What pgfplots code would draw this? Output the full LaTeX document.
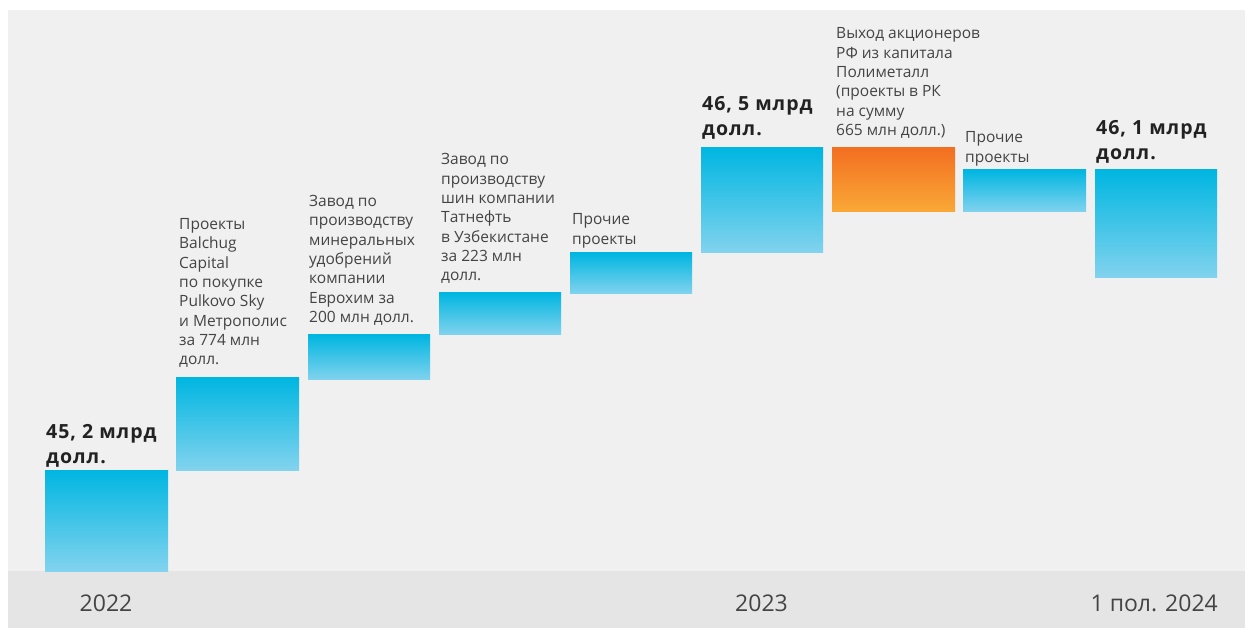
\documentclass[border=0pt]{standalone}
\usepackage{pgfplots}
\pgfplotsset{compat=1.18}
\usepackage{fontspec}
\setmainfont{Open Sans}
\newfontfamily\boldwide[LetterSpace=5]{Open Sans}
\definecolor{bgA}{HTML}{F0F0F0}
\definecolor{bgB}{HTML}{E5E5E5}
\definecolor{cyT}{HTML}{00B6E1}
\definecolor{cyB}{HTML}{82D3EE}
\definecolor{orT}{HTML}{F36F21}
\definecolor{orB}{HTML}{F9A937}
\definecolor{txt}{HTML}{444444}
\definecolor{txtb}{HTML}{222222}
\tikzset{
  lbl/.style={anchor=south west, align=left, inner sep=0pt, text depth=0pt,
    text=txt, font=\fontsize{15.5bp}{19.3bp}\selectfont},
  blbl/.style={anchor=south west, align=left, inner sep=0pt, text depth=0pt,
    text=txtb, font=\boldwide\fontsize{19.5bp}{25bp}\selectfont\bfseries},
  ylbl/.style={anchor=base, inner sep=0pt, text=txt, font=\fontsize{23bp}{27bp}\selectfont},
}
\begin{document}
\begin{tikzpicture}
\begin{axis}[
  width=1245bp, height=628bp, scale only axis,
  xmin=0, xmax=1245, ymin=0, ymax=628,
  hide axis, clip=false,
]
\path (axis cs:0,0) (axis cs:1245,628);
\fill[bgA] (axis cs:8,57) rectangle (axis cs:1245,618);
\fill[bgB] (axis cs:8,0) rectangle (axis cs:1245,57);

% bars: corners (left,bottom) (right,bottom) (right,top) (left,top)
\addplot[draw=none, top color=cyT, bottom color=cyB] coordinates {(45,57) (168,57) (168,158) (45,158)} -- cycle;
\addplot[draw=none, top color=cyT, bottom color=cyB] coordinates {(176,158) (299,158) (299,250) (176,250)} -- cycle;
\addplot[draw=none, top color=cyT, bottom color=cyB] coordinates {(308,248) (430,248) (430,293) (308,293)} -- cycle;
\addplot[draw=none, top color=cyT, bottom color=cyB] coordinates {(439,293) (561,293) (561,335) (439,335)} -- cycle;
\addplot[draw=none, top color=cyT, bottom color=cyB] coordinates {(570,334) (692,334) (692,375) (570,375)} -- cycle;
\addplot[draw=none, top color=cyT, bottom color=cyB] coordinates {(701,375) (823,375) (823,480) (701,480)} -- cycle;
\addplot[draw=none, top color=orT, bottom color=orB] coordinates {(832,416) (955,416) (955,480) (832,480)} -- cycle;
\addplot[draw=none, top color=cyT, bottom color=cyB] coordinates {(963,416) (1086,416) (1086,458) (963,458)} -- cycle;
\addplot[draw=none, top color=cyT, bottom color=cyB] coordinates {(1095,350) (1217,350) (1217,458) (1095,458)} -- cycle;

% labels
\node[blbl] at (axis cs:46,164) {45, 2 млрд\\долл.};
\node[lbl] at (axis cs:179,263) {Проекты\\Balchug\\Capital\\по покупке\\Pulkovo Sky\\и Метрополис\\за 774 млн\\долл.};
\node[lbl] at (axis cs:309,305.3) {Завод по\\производству\\минеральных\\удобрений\\компании\\Еврохим за\\200 млн долл.};
\node[lbl] at (axis cs:441,347) {Завод по\\производству\\шин компании\\Татнефть\\в Узбекистане\\за 223 млн\\долл.};
\node[lbl] at (axis cs:572,383.7) {Прочие\\проекты};
\node[blbl] at (axis cs:702,492.3) {46, 5 млрд\\долл.};
\node[lbl] at (axis cs:836,492.3) {Выход акционеров\\РФ из капитала\\Полиметалл\\(проекты в РК\\на сумму\\665 млн долл.)};
\node[lbl] at (axis cs:965,465.7) {Прочие\\проекты};
\node[blbl] at (axis cs:1096,468) {46, 1 млрд\\долл.};

\node[ylbl] at (axis cs:106,17) {2022};
\node[ylbl] at (axis cs:761.5,17) {2023};
\node[ylbl, anchor=base east] at (axis cs:1218,17) {1 пол. 2024};
\end{axis}
\end{tikzpicture}
\end{document}
